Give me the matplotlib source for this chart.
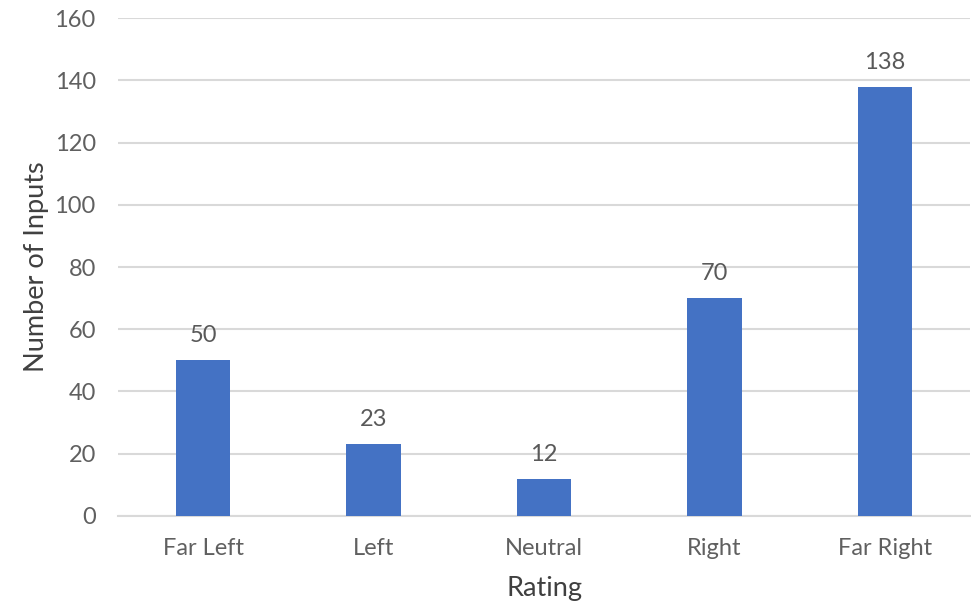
import matplotlib
matplotlib.use('Agg')
import matplotlib.pyplot as plt
import numpy as np

categories = ['Far Left', 'Left', 'Neutral', 'Right', 'Far Right']
counts = [50, 23, 12, 70, 138]
y_ticks = [0, 20, 40, 60, 80, 100, 120, 140, 160]

plt.rcParams['font.family'] = ['Lato', 'DejaVu Sans']

fig = plt.figure(figsize=(9.71, 6.02), dpi=100)
ax = fig.add_axes([0.1215, 0.1429, 0.8775, 0.8271])

x = np.arange(len(categories))
bars = ax.bar(x, counts, width=0.32, color='#4472C4', zorder=3)

for xi, v in zip(x, counts):
    ax.text(xi, v + 4.5, str(v), ha='center', va='bottom', fontsize=17,
            color='#595959')

ax.set_xlim(-0.5, len(categories) - 0.5)
ax.set_ylim(0, 160)
ax.set_yticks(y_ticks)
ax.set_xticks(x)
ax.set_xticklabels(categories)
ax.yaxis.grid(True, color='#D9D9D9', linewidth=1.5, zorder=0)
ax.set_axisbelow(True)

for s in ['top', 'right', 'left']:
    ax.spines[s].set_visible(False)
ax.spines['bottom'].set_color('#D9D9D9')
ax.spines['bottom'].set_linewidth(1.5)

ax.tick_params(axis='both', length=0, labelsize=17, labelcolor='#606060')
ax.tick_params(axis='y', pad=16)
ax.tick_params(axis='x', pad=16)

ax.set_xlabel('Rating', fontsize=19.5, color='#404040', labelpad=12)
ax.set_ylabel('Number of Inputs', fontsize=19.5, color='#404040', labelpad=4)

fig.savefig('out.png', dpi=100)
